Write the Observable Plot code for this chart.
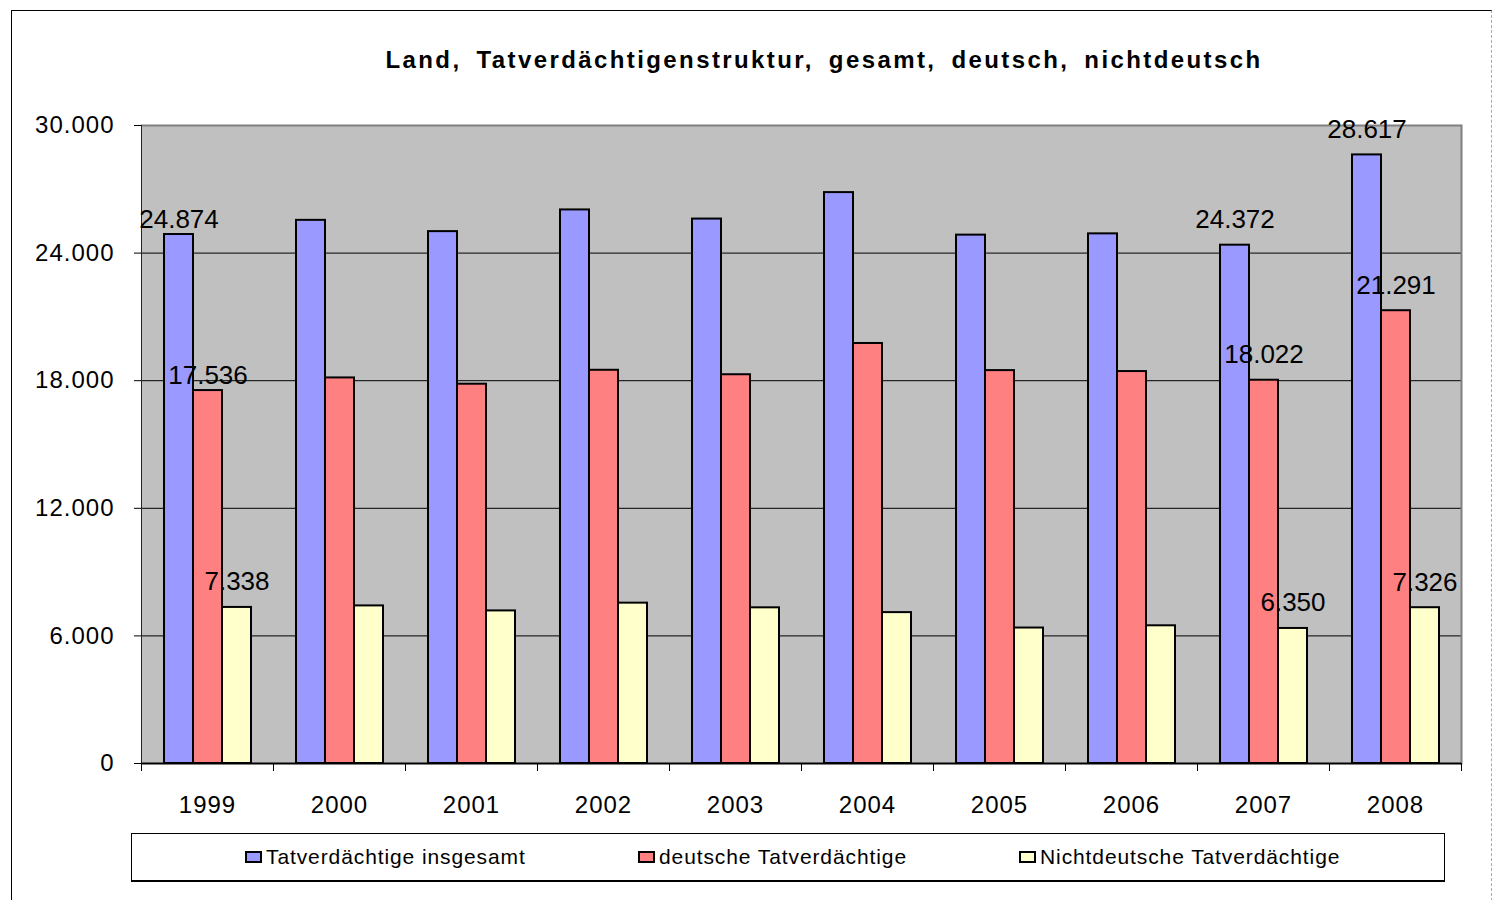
<!DOCTYPE html>
<html>
<head>
<meta charset="utf-8">
<script src="https://cdn.jsdelivr.net/npm/d3@7"></script>
<script src="https://cdn.jsdelivr.net/npm/@observablehq/plot@0.6"></script>
<style>
  body { margin: 0; background: #fff; font-family: "Liberation Sans", Arial, sans-serif; }
  #wrap { position: relative; width: 1498px; height: 900px; overflow: hidden; background: #fff; }
  #border { position: absolute; left: 11px; top: 10px; width: 1479px; height: 900px;
            border-left: 1px solid #000; border-top: 1px solid #000; border-right: 1px dashed #aaa; }
  #title { position: absolute; top: 48px; left: 824px; transform: translateX(-50%); white-space: nowrap;
           font-weight: bold; font-size: 24px; line-height: 24px; letter-spacing: 2.4px; word-spacing: 6px; color: #000; }
  #chart { position: absolute; left: 0; top: 100px; }
  #legend { position: absolute; left: 131px; top: 833px; width: 1312px; height: 46px;
            border: 1px solid #000; border-bottom: 2px solid #000; background: #fff; }
  .item { position: absolute; top: 0; height: 46px; display: flex; align-items: center;
          font-size: 21px; letter-spacing: 0.9px; color: #000; white-space: nowrap; }
  .sw { width: 13px; height: 8px; border: 2px solid #000; margin-right: 4px; }
  #chart [aria-label="y-axis tick label"] text { letter-spacing: 1px; }
  #chart [aria-label="fx-axis tick label"] text { letter-spacing: 1px; }
</style>
</head>
<body>
<div id="wrap">
  <div id="border"></div>
  <div id="title">Land, Tatverdächtigenstruktur, gesamt, deutsch, nichtdeutsch</div>
  <div id="chart"></div>
  <div id="legend"></div>
</div>
<script>
// ---- data ----
const years = ["1999", "2000", "2001", "2002", "2003", "2004", "2005", "2006", "2007", "2008"];
const seriesNames = ["Tatverdächtige insgesamt", "deutsche Tatverdächtige", "Nichtdeutsche Tatverdächtige"];
const totalValues = [24874, 25540, 25010, 26030, 25600, 26845, 24845, 24905, 24372, 28617];
const germanValues = [17536, 18130, 17835, 18490, 18280, 19750, 18475, 18430, 18022, 21291];
const foreignValues = [7338, 7410, 7175, 7540, 7320, 7095, 6370, 6475, 6350, 7326];
const seriesColors = ["#9999ff", "#ff8080", "#ffffcc"];
const yTicks = [0, 6000, 12000, 18000, 24000, 30000];
const labeledYears = ["1999", "2007", "2008"];

// ---- table ----
const seriesValues = [totalValues, germanValues, foreignValues];
const rows = years.flatMap((year, i) =>
  seriesValues.map((vals, s) => ({ year, series: seriesNames[s], value: vals[i] })));
const fmt = d3.formatLocale({ decimal: ",", thousands: ".", grouping: [3], currency: ["", "€"] }).format(",d");
const labelRows = rows.filter(d => labeledYears.includes(d.year));
const lowLabels = labelRows.filter(d => d.year === labeledYears[0] && d.series !== seriesNames[2]);
const highLabels = labelRows.filter(d => !lowLabels.includes(d));

const W = 1498, H = 730, mt = 25, mb = 67, ml = 138, mr = 35;
const plotH = H - mt - mb;

const chart = Plot.plot({
  width: W, height: H,
  marginTop: mt, marginBottom: mb, marginLeft: ml, marginRight: mr,
  style: { fontFamily: "'Liberation Sans', Arial, sans-serif", fontSize: "24px", color: "#000", background: "transparent", overflow: "visible" },
  fx: { domain: years, paddingInner: 0, paddingOuter: 0, label: null },
  x: { domain: seriesNames, paddingInner: 0, paddingOuter: 0.7, axis: null },
  y: { domain: [0, 30000], label: null },
  color: { domain: seriesNames, range: seriesColors },
  marks: [
    Plot.frame({ fill: "#c0c0c0", stroke: "#c0c0c0" }),
    Plot.ruleY(yTicks.slice(1, -1), { stroke: "#000", strokeWidth: 1 }),
    Plot.ruleY([yTicks[yTicks.length - 1]], { stroke: "#808080", strokeWidth: 2 }),
    Plot.barY(rows, { fx: "year", x: "series", y: "value", fill: "series", stroke: "#000", strokeWidth: 2 }),
    Plot.frame({ anchor: "left", facetAnchor: "left", stroke: "#222" }),
    Plot.frame({ anchor: "right", facetAnchor: "right", stroke: "#808080", strokeWidth: 2 }),
    Plot.ruleY([0], { stroke: "#000", strokeWidth: 2 }),
    Plot.frame({ anchor: "left", insetTop: plotH, insetBottom: -7, stroke: "#000" }),
    Plot.frame({ anchor: "right", facetAnchor: "right", insetTop: plotH, insetBottom: -7, stroke: "#000" }),
    Plot.axisY({ ticks: yTicks, tickFormat: fmt, tickSize: 7, tickPadding: 20, fontSize: 24, label: null }),
    Plot.axisFx({ anchor: "bottom", tickSize: 0, tickPadding: 32, fontSize: 24, label: null }),
    Plot.text(highLabels, { fx: "year", x: "series", y: "value", text: d => fmt(d.value), lineAnchor: "bottom", dy: -17, fontSize: 26, fill: "#000" }),
    Plot.text(lowLabels, { fx: "year", x: "series", y: "value", text: d => fmt(d.value), lineAnchor: "bottom", dy: -7, fontSize: 26, fill: "#000" })
  ]
});
document.getElementById("chart").appendChild(chart);

// ---- legend ----
const legendLefts = [113, 506, 887];
const legend = document.getElementById("legend");
seriesNames.forEach((name, i) => {
  const item = document.createElement("div");
  item.className = "item";
  item.style.left = legendLefts[i] + "px";
  const sw = document.createElement("span");
  sw.className = "sw";
  sw.style.background = seriesColors[i];
  const tx = document.createElement("span");
  tx.textContent = name;
  item.appendChild(sw);
  item.appendChild(tx);
  legend.appendChild(item);
});
</script>
</body>
</html>
